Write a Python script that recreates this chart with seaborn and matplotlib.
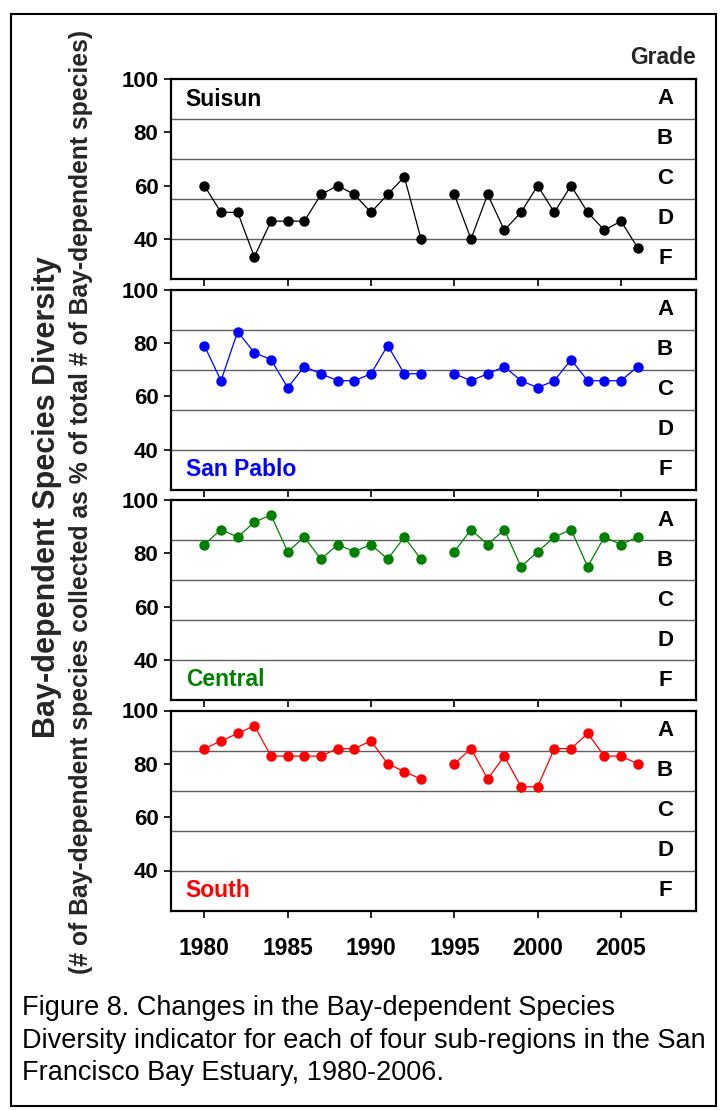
import numpy as np
import pandas as pd
import seaborn as sns
import matplotlib.pyplot as plt
from matplotlib.patches import Rectangle

# Sampling years (no survey in 1994)
years = list(range(1980, 1994)) + list(range(1995, 2007))

# Bay-dependent species collected as % of total, per sub-region
suisun = [60.0, 50.0, 50.0, 33.3, 46.7, 46.7, 46.7, 56.7, 60.0, 56.7, 50.0, 56.7, 63.3, 40.0,
          56.7, 40.0, 56.7, 43.3, 50.0, 60.0, 50.0, 60.0, 50.0, 43.3, 46.7, 36.7]
san_pablo = [79.0, 65.8, 84.2, 76.3, 73.7, 63.2, 71.1, 68.4, 65.8, 65.8, 68.4, 79.0, 68.4, 68.4,
             68.4, 65.8, 68.4, 71.1, 65.8, 63.2, 65.8, 73.7, 65.8, 65.8, 65.8, 71.1]
central = [83.3, 88.9, 86.1, 91.7, 94.4, 80.6, 86.1, 77.8, 83.3, 80.6, 83.3, 77.8, 86.1, 77.8,
           80.6, 88.9, 83.3, 88.9, 75.0, 80.6, 86.1, 88.9, 75.0, 86.1, 83.3, 86.1]
south = [85.7, 88.6, 91.4, 94.3, 82.9, 82.9, 82.9, 82.9, 85.7, 85.7, 88.6, 80.0, 77.1, 74.3,
         80.0, 85.7, 74.3, 82.9, 71.4, 71.4, 85.7, 85.7, 91.4, 82.9, 82.9, 80.0]

regions = ["Suisun", "San Pablo", "Central", "South"]
region_values = [suisun, san_pablo, central, south]
region_colors = ["#000000", "#0000FF", "#008000", "#FF0000"]

grade_letters = ["A", "B", "C", "D", "F"]
grade_bounds = [85, 70, 55, 40]
grade_mids = [92.5, 77.5, 62.5, 47.5, 32.5]
y_ticks = [40, 60, 80, 100]
x_ticks = [1980, 1985, 1990, 1995, 2000, 2005]

sns.set_theme(style="white")
plt.rcParams["font.family"] = ["Liberation Sans", "DejaVu Sans"]

W, H = 721, 1110
fig = plt.figure(figsize=(W / 100, H / 100), dpi=100)

# Figure frame around plot and caption
fig.patches.append(Rectangle((11 / W, 1 - 1106 / H), (716 - 11) / W, (1106 - 14) / H,
                             transform=fig.transFigure, fill=False, edgecolor="black",
                             linewidth=1.5, zorder=0))

left_px, right_px = 171, 696
panel_tops = [79, 289.5, 500, 710.5]
panel_h = 200

for i, (name, vals, col, top) in enumerate(zip(regions, region_values, region_colors, panel_tops)):
    ax = fig.add_axes([left_px / W, 1 - (top + panel_h) / H,
                       (right_px - left_px) / W, panel_h / H])
    df = pd.DataFrame({
        "year": years,
        "value": vals,
        "segment": [0 if y < 1994 else 1 for y in years],
    })
    for b in grade_bounds:
        ax.axhline(b, color="#606060", linewidth=1.0, zorder=1)
    sns.lineplot(data=df, x="year", y="value", units="segment", estimator=None,
                 color=col, marker="o", markersize=7.5, markeredgewidth=0,
                 linewidth=0.9, ax=ax, zorder=3)
    ax.set_xlim(1978, 2009.5)
    ax.set_ylim(25, 100)
    ax.set_xticks(x_ticks)
    ax.set_yticks(y_ticks)
    ax.set_xlabel("")
    ax.set_ylabel("")
    for s in ax.spines.values():
        s.set_color("black")
        s.set_linewidth(1.6)
    ax.tick_params(axis="both", direction="out", length=5, width=1.2, color="black",
                   left=True, bottom=True, labelsize=16, pad=4, labelcolor="black")
    for lab in ax.get_yticklabels() + ax.get_xticklabels():
        lab.set_fontweight("bold")
    if i < 3:
        ax.tick_params(labelbottom=False)
    else:
        ax.tick_params(axis="x", labelsize=16.5, pad=14)

    # Grade letters on the right side of each panel
    for g, m in zip(grade_letters, grade_mids):
        ax.text(0.941, m, g, transform=ax.get_yaxis_transform(), ha="center", va="center",
                fontsize=16, fontweight="bold", color="black")

    # Region name
    label_y = 92.5 if i == 0 else 32.5
    ax.text(0.028, label_y, name, transform=ax.get_yaxis_transform(), ha="left",
            va="center", fontsize=16.5, fontweight="bold", color=col)

fig.text(663 / W, 1 - 58 / H, "Grade", ha="center", va="center", fontsize=16.5,
         fontweight="bold")

fig.text(47 / W, 1 - 497 / H, "Bay-dependent Species Diversity", rotation=90,
         ha="center", va="center", fontsize=22, fontweight="bold")
fig.text(81 / W, 1 - 502 / H,
         "(# of Bay-dependent species collected as % of total # of Bay-dependent species)",
         rotation=90, ha="center", va="center", fontsize=17.8, fontweight="bold")

caption_lines = [
    "Figure 8. Changes in the Bay-dependent Species",
    "Diversity indicator for each of four sub-regions in the San",
    "Francisco Bay Estuary, 1980-2006.",
]
for k, line in enumerate(caption_lines):
    fig.text(22 / W, 1 - (1008 + 32.5 * k) / H, line, ha="left", va="center",
             fontsize=19.5, color="black")

fig.savefig("out.png", dpi=100)
